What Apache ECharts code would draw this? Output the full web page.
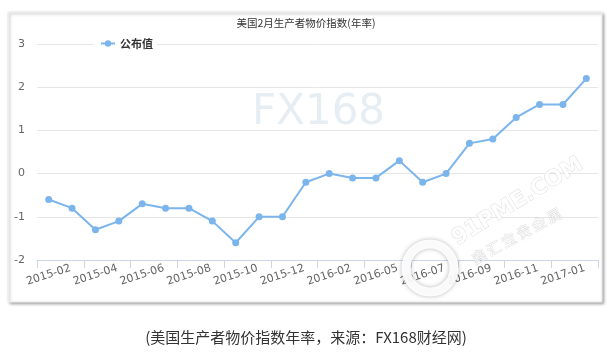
<!DOCTYPE html>
<html>
<head>
<meta charset="utf-8">
<script src="https://cdn.jsdelivr.net/npm/echarts@6/dist/echarts.min.js"></script>
<style>
html,body{margin:0;padding:0;background:#fff;}
#c{width:612px;height:354px;}
</style>
</head>
<body>
<div id="c"></div>
<script>
const categories = ['2015-02','2015-03','2015-04','2015-05','2015-06','2015-07','2015-08','2015-09','2015-10','2015-11','2015-12','2016-01','2016-02','2016-03','2016-05','2016-06','2016-07','2016-08','2016-09','2016-10','2016-11','2016-12','2017-01','2017-02'];
const publishedValues = [-0.6,-0.8,-1.3,-1.1,-0.7,-0.8,-0.8,-1.1,-1.6,-1.0,-1.0,-0.2,0.0,-0.1,-0.1,0.3,-0.2,0.0,0.7,0.8,1.3,1.6,1.6,2.2];
const seriesName = '公布值';
const titleText = '美国2月生产者物价指数(年率)';
const captionText = '(美国生产者物价指数年率，来源：FX168财经网)';

const chart = echarts.init(document.getElementById('c'), null, {renderer:'canvas'});
const latin = '"DejaVu Sans", "Liberation Sans", sans-serif';
const cjk = '"Noto Sans CJK SC", "Noto Sans", sans-serif';

chart.setOption({
  animation: false,
  backgroundColor: '#fff',
  title: {
    text: titleText,
    left: 'center',
    top: 13,
    textStyle: {fontSize: 10.5, fontWeight: 'normal', color: '#333', fontFamily: cjk}
  },
  legend: {
    data: [seriesName],
    left: 94,
    top: 35,
    backgroundColor: '#fff',
    padding: [3, 4, 3, 6],
    itemWidth: 14,
    itemHeight: 8,
    itemGap: 5,
    textStyle: {fontSize: 11, fontWeight: 'bold', color: '#333', fontFamily: cjk}
  },
  grid: {left: 37, right: 14, top: 44, bottom: 94, containLabel: false},
  xAxis: {
    type: 'category',
    data: categories,
    boundaryGap: true,
    axisLine: {onZero: false, lineStyle: {color: '#ccd6eb', width: 1}},
    axisTick: {show: true, interval: 1, length: 8, lineStyle: {color: '#ccd6eb'}},
    axisLabel: {
      interval: 1,
      rotate: 18,
      align: 'center',
      verticalAlign: 'middle',
      margin: 15,
      color: '#666',
      fontSize: 11,
      fontFamily: latin
    },
    splitLine: {show: false}
  },
  yAxis: {
    type: 'value',
    min: -2,
    max: 3,
    interval: 1,
    axisLine: {show: false},
    axisTick: {show: false},
    axisLabel: {color: '#666', fontSize: 11, margin: 12, fontFamily: latin},
    splitLine: {lineStyle: {color: '#e6e6e6', width: 1}}
  },
  series: [{
    name: seriesName,
    type: 'line',
    data: publishedValues,
    symbol: 'circle',
    symbolSize: 7,
    lineStyle: {color: '#7cb5ec', width: 2},
    itemStyle: {color: '#7cb5ec'},
    z: 5
  }],
  graphic: [
    {
      type: 'rect', z: -10, silent: true,
      shape: {x: 8, y: 12, width: 594, height: 290},
      style: {fill: '#fff', stroke: '#ececec', lineWidth: 1,
              shadowBlur: 3, shadowOffsetX: 1.5, shadowOffsetY: 1.5, shadowColor: 'rgba(0,0,0,0.35)'}
    },
    {
      type: 'text', z: -5, silent: true,
      left: 252, top: 92,
      style: {text: 'FX168', fontSize: 42, fontFamily: latin, fill: '#e7eef3'}
    },
    {
      type: 'circle', z: 10, silent: true,
      shape: {cx: 430, cy: 268, r: 24},
      style: {fill: 'none', stroke: 'rgba(255,255,255,0.92)', lineWidth: 9,
              shadowBlur: 4, shadowColor: 'rgba(0,0,0,0.3)'}
    },
    {
      type: 'text', z: 10, silent: true,
      x: 460, y: 250, rotation: 0.55,
      style: {text: '91PME.COM', fontSize: 22, fontWeight: 'bold', fontFamily: latin,
              fill: 'rgba(255,255,255,0.93)', stroke: 'rgba(0,0,0,0.14)', lineWidth: 1,
              textAlign: 'left', textVerticalAlign: 'bottom'}
    },
    {
      type: 'text', z: 10, silent: true,
      x: 476, y: 266, rotation: 0.5,
      style: {text: '鑫 汇 宝 贵 金 属', fontSize: 14, fontFamily: cjk,
              fill: 'rgba(255,255,255,0.93)', stroke: 'rgba(0,0,0,0.14)', lineWidth: 1,
              textAlign: 'left', textVerticalAlign: 'bottom'}
    },
    {
      type: 'text', silent: true,
      x: 306, y: 337,
      style: {text: captionText, fontSize: 15, fontFamily: cjk, fill: '#333',
              textAlign: 'center', textVerticalAlign: 'middle'}
    }
  ]
});
</script>
</body>
</html>
